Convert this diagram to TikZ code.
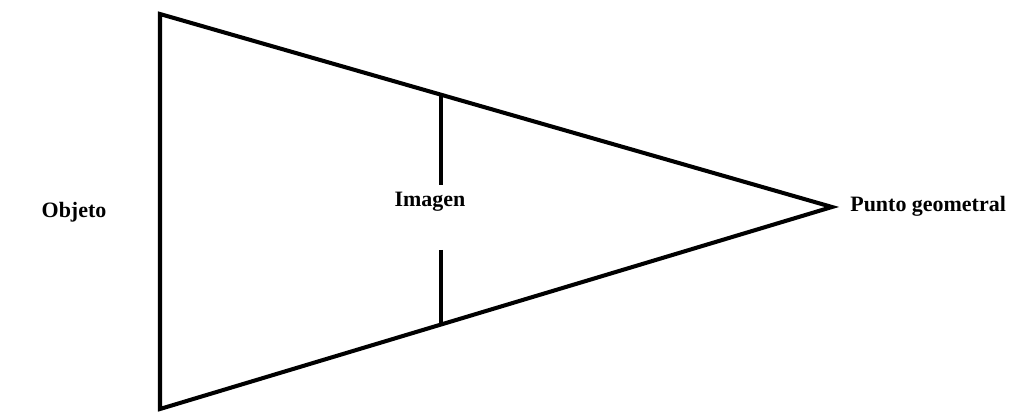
\documentclass[tikz,border=0pt]{standalone}
\usepackage{fontspec}
\setmainfont{Liberation Serif}
\usetikzlibrary{positioning, calc}

\begin{document}
\begin{tikzpicture}[x=0.02cm, y=-0.02cm]
    \tikzstyle{edge} = [line width=2.3pt, line join=miter]
    \tikzstyle{lbl} = [font=\bfseries\fontsize{12.5}{14}\selectfont, inner sep=0pt]

    \useasboundingbox (0,0) rectangle (1012,412);

    % triangle corners
    \coordinate (top) at (160,14);
    \coordinate (bot) at (160,409);
    \coordinate (apex) at (832,207);

    % where the image meets the two sides
    \coordinate (itop) at (441,95);
    \coordinate (ibot) at (441,325);
    \coordinate (gapT) at (441,185);
    \coordinate (gapB) at (441,250);

    \node [lbl] (obj) at (74,212) {Objeto};
    \node [lbl] (img) at (430,202) {Imagen};
    \node [lbl, anchor=west] (pg) at (850,206) {Punto geometral};

    \draw[edge] (apex) -- (top) -- (bot) -- cycle;
    \draw[edge] (itop) -- (gapT);
    \draw[edge] (gapB) -- (ibot);
\end{tikzpicture}
\end{document}
